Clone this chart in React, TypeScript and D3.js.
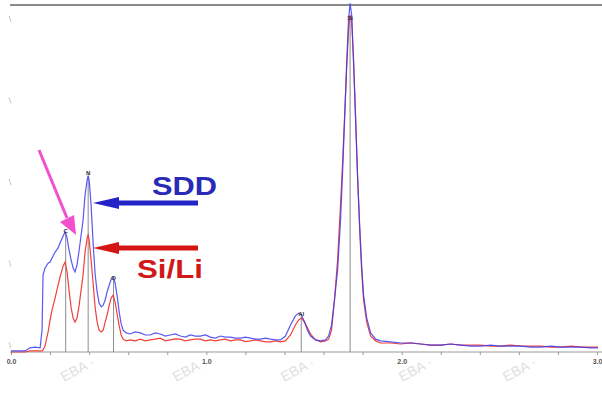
import React, {useEffect, useRef} from "react";
import * as d3 from "d3";

// energy axis (keV) and relative intensities
const energy: number[] = [
  0.000, 0.072, 0.097, 0.123, 0.149, 0.159, 0.164, 0.174, 0.190, 0.200,
  0.210, 0.226, 0.241, 0.251, 0.267, 0.277, 0.287, 0.297, 0.308, 0.318,
  0.328, 0.338, 0.349, 0.359, 0.369, 0.379, 0.390, 0.395, 0.400, 0.410,
  0.421, 0.431, 0.441, 0.451, 0.462, 0.472, 0.482, 0.492, 0.503, 0.513,
  0.523, 0.533, 0.544, 0.554, 0.564, 0.574, 0.590, 0.610, 0.636, 0.662,
  0.687, 0.713, 0.738, 0.764, 0.790, 0.815, 0.841, 0.867, 0.892, 0.918,
  0.944, 0.969, 0.995, 1.021, 1.046, 1.072, 1.097, 1.123, 1.149, 1.174,
  1.200, 1.226, 1.251, 1.277, 1.303, 1.328, 1.354, 1.379, 1.405, 1.431,
  1.456, 1.472, 1.487, 1.503, 1.518, 1.533, 1.559, 1.585, 1.610, 1.626,
  1.641, 1.656, 1.672, 1.687, 1.697, 1.708, 1.718, 1.728, 1.736, 1.744,
  1.754, 1.764, 1.774, 1.785, 1.795, 1.805, 1.821, 1.841, 1.867, 1.892,
  1.944, 1.995, 2.046, 2.097, 2.149, 2.200, 2.251, 2.303, 2.354, 2.405,
  2.456, 2.508, 2.559, 2.610, 2.662, 2.713, 2.764, 2.815, 2.867, 2.918,
  2.969, 3.005
];

const sddCounts: number[] = [
  0.3, 0.3, 1.2, 1.4, 1.2, 6.3, 22.2, 24.2, 25.6, 25.9,
  27.1, 28.8, 30.0, 31.4, 33.4, 34.6, 32.9, 29.4, 26.5, 24.2,
  23.1, 25.1, 29.4, 33.7, 38.0, 45.2, 49.6, 50.7, 49.6, 42.4,
  30.8, 22.2, 17.3, 14.1, 13.0, 13.5, 15.0, 17.3, 19.3, 21.0,
  21.6, 19.9, 15.9, 11.5, 8.1, 6.3, 5.5, 5.2, 5.8, 5.5,
  4.9, 4.9, 5.5, 5.2, 4.6, 4.9, 5.2, 4.6, 4.3, 4.9,
  4.6, 4.6, 4.9, 4.3, 4.0, 4.6, 4.3, 4.3, 4.0, 4.0,
  4.3, 4.0, 3.7, 3.7, 4.0, 3.7, 3.5, 3.5, 4.6, 7.8,
  10.4, 11.2, 10.7, 8.6, 6.3, 4.6, 3.5, 3.2, 3.5, 4.6,
  7.8, 15.0, 23.6, 38.0, 51.0, 66.9, 82.7, 95.7, 100.5, 97.1,
  82.7, 66.9, 51.0, 36.6, 25.1, 16.4, 9.8, 5.5, 3.7, 3.2,
  2.9, 2.6, 2.6, 2.3, 2.0, 2.0, 2.3, 2.0, 1.7, 1.7,
  2.0, 1.7, 1.7, 1.7, 1.4, 1.4, 1.7, 1.4, 1.4, 1.4,
  1.2, 1.2
];

const siliCounts: number[] = [
  0.0, 0.0, 0.3, 0.3, 0.3, 0.3, 0.6, 1.7, 5.8, 9.2,
  12.1, 15.6, 19.3, 21.6, 24.8, 25.9, 23.1, 17.9, 12.7, 9.8,
  8.6, 9.8, 13.5, 17.9, 22.2, 28.8, 32.9, 33.7, 32.3, 26.5,
  19.3, 12.7, 8.6, 6.3, 5.8, 6.3, 8.6, 10.7, 13.5, 15.6,
  16.4, 14.4, 10.7, 7.5, 4.9, 3.7, 3.2, 3.5, 3.2, 3.7,
  3.2, 3.5, 3.7, 4.0, 3.2, 3.5, 3.8, 3.7, 3.2, 3.5,
  3.7, 3.7, 3.2, 3.5, 3.2, 3.5, 3.7, 3.2, 3.5, 3.5,
  3.0, 3.2, 3.5, 3.2, 2.9, 2.9, 3.2, 2.9, 3.2, 4.9,
  7.8, 9.2, 9.8, 8.6, 6.9, 5.2, 3.5, 2.9, 3.2, 3.7,
  6.3, 15.0, 26.5, 42.4, 53.9, 68.3, 81.3, 92.8, 97.1, 95.7,
  84.1, 68.3, 51.0, 35.2, 23.6, 15.0, 8.6, 4.6, 3.2, 2.6,
  2.6, 2.3, 2.6, 2.3, 2.0, 2.0, 2.3, 2.0, 2.0, 2.0,
  1.7, 1.7, 2.0, 1.7, 1.7, 1.7, 1.4, 1.4, 1.7, 1.4,
  1.4, 1.4
];

// element markers
const elements: string[] = ["C", "N", "O", "Al", "Si"];
const elementEnergy: number[] = [0.280, 0.395, 0.525, 1.486, 1.736];
const elementHeight: number[] = [34.6, 51.3, 21.0, 10.7, 96.0];

const xTicks: number[] = [0, 0.2, 0.4, 0.6, 0.8, 1.0, 1.2, 1.4, 1.6, 1.8, 2.0, 2.2, 2.4, 2.6, 2.8, 3.0];
const yTicks: number[] = [2, 25.5, 49, 72.5, 96];
const watermarkX: number[] = [64, 176, 284, 402, 506];

const ColorSDD: string = "#3b3bf0";
const ColorSiLi: string = "#f0403a";
const FontFamily: string = "Arial, 'Liberation Sans', sans-serif";

export default function App(): React.ReactElement {
  const svgRef = useRef<SVGSVGElement>(null);

  const width = 602;
  const height = 395;

  useEffect(() => {
    if (svgRef.current === null) return;
    const svg = d3.select(svgRef.current);
    svg.selectAll("*").remove();

    const x = d3.scaleLinear().domain([0, 3.0]).range([11, 597]);
    const y = d3.scaleLinear().domain([0, 100]).range([352, 5]);

    svg.append("rect").attr("width", width).attr("height", height).attr("fill", "#fff");

    // watermark
    svg.selectAll(".wm")
      .data(watermarkX)
      .join("text")
      .attr("class", "wm")
      .attr("transform", (d) => `translate(${d},${382}) rotate(-28)`)
      .attr("font-family", FontFamily)
      .attr("font-size", 14)
      .attr("fill", "#e0e0e0")
      .text("EBA ·");

    // top frame line
    svg.append("line")
      .attr("x1", 10).attr("x2", 602)
      .attr("y1", y(100)).attr("y2", y(100))
      .attr("stroke", "#8a8a8a").attr("stroke-width", 2);

    // faint left ticks
    svg.selectAll(".ytick")
      .data(yTicks)
      .join("line")
      .attr("class", "ytick")
      .attr("x1", 9).attr("x2", 11)
      .attr("y1", (d) => y(d) - 3).attr("y2", (d) => y(d) + 3)
      .attr("stroke", "#c8c8c8").attr("stroke-width", 1);

    // x axis
    const xAxis = svg.append("g").attr("transform", `translate(0,${y(0)})`);
    xAxis.call(
      d3.axisBottom(x)
        .tickValues(xTicks)
        .tickSize(3)
        .tickFormat((d) => (Math.abs((d as number) % 1) < 1e-6 ? d3.format(".1f")(d as number) : ""))
    );
    xAxis.select(".domain").attr("stroke", "#9a9a9a").attr("d", `M10,0H602`);
    xAxis.selectAll(".tick line").attr("stroke", "#9a9a9a");
    xAxis.selectAll(".tick text")
      .attr("fill", "#555")
      .attr("font-size", 7)
      .attr("font-weight", "bold")
      .attr("font-family", FontFamily)
      .attr("dy", "0.9em");

    // element marker lines
    const markers = elements.map((el, i) => ({el, e: elementEnergy[i], h: elementHeight[i]}));
    svg.selectAll(".marker")
      .data(markers)
      .join("line")
      .attr("class", "marker")
      .attr("x1", (d) => x(d.e)).attr("x2", (d) => x(d.e))
      .attr("y1", y(0)).attr("y2", (d) => y(d.h))
      .attr("stroke", "#8c8c8c").attr("stroke-width", 1);

    const line = d3.line<number>()
      .x((d, i) => x(energy[i]))
      .y((d) => y(d));

    svg.append("path")
      .datum(siliCounts)
      .attr("d", line)
      .attr("fill", "none")
      .attr("stroke", ColorSiLi)
      .attr("stroke-width", 1.2);

    svg.append("path")
      .datum(sddCounts)
      .attr("d", line)
      .attr("fill", "none")
      .attr("stroke", ColorSDD)
      .attr("stroke-opacity", 0.85)
      .attr("stroke-width", 1.2);

    svg.selectAll(".markerLabel")
      .data(markers)
      .join("text")
      .attr("class", "markerLabel")
      .attr("x", (d) => x(d.e))
      .attr("y", (d) => y(d.h) + 1)
      .attr("text-anchor", "middle")
      .attr("font-size", 6)
      .attr("font-weight", "bold")
      .attr("font-family", FontFamily)
      .attr("fill", "#333")
      .text((d) => d.el);

    // annotations
    const arrow = (yPos: number, color: string) => {
      svg.append("line")
        .attr("x1", 112).attr("x2", 198)
        .attr("y1", yPos).attr("y2", yPos)
        .attr("stroke", color).attr("stroke-width", 5);
      svg.append("path")
        .attr("d", `M93,${yPos} L119,${yPos - 6} L119,${yPos + 6} Z`)
        .attr("fill", color);
    };
    arrow(203, "#2323c8");
    arrow(248, "#d51515");

    svg.append("text")
      .attr("x", 152).attr("y", 195)
      .attr("font-family", FontFamily)
      .attr("font-weight", "bold")
      .attr("font-size", 25)
      .attr("textLength", 65)
      .attr("lengthAdjust", "spacingAndGlyphs")
      .attr("fill", "#2a2ab8")
      .text("SDD");

    svg.append("text")
      .attr("x", 137).attr("y", 278)
      .attr("font-family", FontFamily)
      .attr("font-weight", "bold")
      .attr("font-size", 25)
      .attr("textLength", 66)
      .attr("lengthAdjust", "spacingAndGlyphs")
      .attr("fill", "#d01818")
      .text("Si/Li");

    // pink arrow
    svg.append("line")
      .attr("x1", 39).attr("y1", 150)
      .attr("x2", 67).attr("y2", 218)
      .attr("stroke", "#f24fcf").attr("stroke-width", 3);
    svg.append("path")
      .attr("d", "M76,235 L60,222 L74,215 Z")
      .attr("fill", "#f24fcf");
  }, []);

  return (
    <div style={{position: "absolute", left: 0, top: 0}}>
      <svg ref={svgRef} width={width} height={height}></svg>
    </div>
  );
}
